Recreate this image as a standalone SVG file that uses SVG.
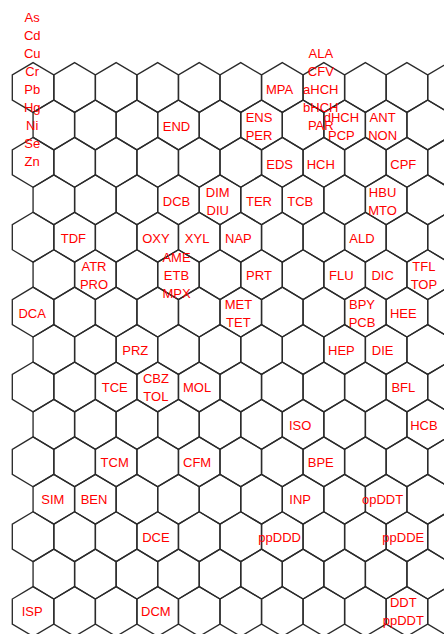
<svg xmlns="http://www.w3.org/2000/svg" xmlns:xlink="http://www.w3.org/1999/xlink" width="444" height="634" viewBox="0 0 444 634">
<style>
.grid{fill:none;stroke:#2b2b2b;stroke-width:1.35;stroke-linejoin:miter}
text{font-family:"Liberation Sans",Arial,sans-serif;font-size:13px;fill:#ff0000;text-anchor:middle}
</style>
<defs>
<path id="h" d="M0,-24.93 L20.77,-12.5 L20.77,12.5 L0,24.93 L-20.77,12.5 L-20.77,-12.5Z"/>
<g id="row">
<use xlink:href="#h" x="0"/><use xlink:href="#h" x="41.54"/><use xlink:href="#h" x="83.08"/><use xlink:href="#h" x="124.62"/><use xlink:href="#h" x="166.16"/><use xlink:href="#h" x="207.7"/><use xlink:href="#h" x="249.24"/><use xlink:href="#h" x="290.78"/><use xlink:href="#h" x="332.32"/><use xlink:href="#h" x="373.86"/><use xlink:href="#h" x="415.4"/>
</g>
</defs>
<rect width="444" height="634" fill="#fff"/>
<g id="grid" class="grid">
<use xlink:href="#row" x="33.07" y="87.5"/>
<use xlink:href="#row" x="53.84" y="124.93"/>
<use xlink:href="#row" x="33.07" y="162.36"/>
<use xlink:href="#row" x="53.84" y="199.79"/>
<use xlink:href="#row" x="33.07" y="237.22"/>
<use xlink:href="#row" x="53.84" y="274.65"/>
<use xlink:href="#row" x="33.07" y="312.08"/>
<use xlink:href="#row" x="53.84" y="349.51"/>
<use xlink:href="#row" x="33.07" y="386.94"/>
<use xlink:href="#row" x="53.84" y="424.37"/>
<use xlink:href="#row" x="33.07" y="461.8"/>
<use xlink:href="#row" x="53.84" y="499.23"/>
<use xlink:href="#row" x="33.07" y="536.66"/>
<use xlink:href="#row" x="53.84" y="574.09"/>
<use xlink:href="#row" x="33.07" y="611.52"/>
</g>
<g id="labels">
<g id="n0_0"><text x="32.2" y="21.9">As</text><text x="32.2" y="39.9">Cd</text><text x="32.2" y="57.9">Cu</text><text x="32.2" y="75.9">Cr</text><text x="32.2" y="93.9">Pb</text><text x="32.2" y="111.9">Hg</text><text x="32.2" y="129.9">Ni</text><text x="32.2" y="147.9">Se</text><text x="32.2" y="165.9">Zn</text></g>
<g id="n0_6"><text x="279.6" y="93.9">MPA</text></g>
<g id="n0_7"><text x="320.8" y="57.9">ALA</text><text x="320.8" y="75.9">CFV</text><text x="320.8" y="93.9">aHCH</text><text x="320.8" y="111.9">bHCH</text><text x="320.8" y="129.9">PAR</text></g>
<g id="n1_3"><text x="176.5" y="131.2">END</text></g>
<g id="n1_5"><text x="259" y="122.2">ENS</text><text x="259" y="140.2">PER</text></g>
<g id="n1_7"><text x="341.4" y="122.2">dHCH</text><text x="341.4" y="140.2">PCP</text></g>
<g id="n1_8"><text x="382.6" y="122.2">ANT</text><text x="382.6" y="140.2">NON</text></g>
<g id="n2_6"><text x="279.6" y="168.5">EDS</text></g>
<g id="n2_7"><text x="320.8" y="168.5">HCH</text></g>
<g id="n2_9"><text x="403.3" y="168.5">CPF</text></g>
<g id="n3_3"><text x="176.5" y="205.8">DCB</text></g>
<g id="n3_4"><text x="217.7" y="196.8">DIM</text><text x="217.7" y="214.8">DIU</text></g>
<g id="n3_5"><text x="259" y="205.8">TER</text></g>
<g id="n3_6"><text x="300.2" y="205.8">TCB</text></g>
<g id="n3_8"><text x="382.6" y="196.8">HBU</text><text x="382.6" y="214.8">MTO</text></g>
<g id="n4_1"><text x="73.4" y="243.1">TDF</text></g>
<g id="n4_3"><text x="155.9" y="243.1">OXY</text></g>
<g id="n4_4"><text x="197.1" y="243.1">XYL</text></g>
<g id="n4_5"><text x="238.4" y="243.1">NAP</text></g>
<g id="n4_8"><text x="362" y="243.1">ALD</text></g>
<g id="n5_1"><text x="94" y="271.4">ATR</text><text x="94" y="289.4">PRO</text></g>
<g id="n5_3"><text x="176.5" y="262.4">AME</text><text x="176.5" y="280.4">ETB</text><text x="176.5" y="298.4">MPX</text></g>
<g id="n5_5"><text x="259" y="280.4">PRT</text></g>
<g id="n5_7"><text x="341.4" y="280.4">FLU</text></g>
<g id="n5_8"><text x="382.6" y="280.4">DIC</text></g>
<g id="n5_9"><text x="423.9" y="271.4">TFL</text><text x="423.9" y="289.4">TOP</text></g>
<g id="n6_0"><text x="32.2" y="317.7">DCA</text></g>
<g id="n6_5"><text x="238.4" y="308.7">MET</text><text x="238.4" y="326.7">TET</text></g>
<g id="n6_8"><text x="362" y="308.7">BPY</text><text x="362" y="326.7">PCB</text></g>
<g id="n6_9"><text x="403.3" y="317.7">HEE</text></g>
<g id="n7_2"><text x="135.3" y="355">PRZ</text></g>
<g id="n7_7"><text x="341.4" y="355">HEP</text></g>
<g id="n7_8"><text x="382.6" y="355">DIE</text></g>
<g id="n8_2"><text x="114.7" y="392.3">TCE</text></g>
<g id="n8_3"><text x="155.9" y="383.3">CBZ</text><text x="155.9" y="401.3">TOL</text></g>
<g id="n8_4"><text x="197.1" y="392.3">MOL</text></g>
<g id="n8_9"><text x="403.3" y="392.3">BFL</text></g>
<g id="n9_6"><text x="300.2" y="429.6">ISO</text></g>
<g id="n9_9"><text x="423.9" y="429.6">HCB</text></g>
<g id="n10_2"><text x="114.7" y="466.9">TCM</text></g>
<g id="n10_4"><text x="197.1" y="466.9">CFM</text></g>
<g id="n10_7"><text x="320.8" y="466.9">BPE</text></g>
<g id="n11_0"><text x="52.8" y="504.2">SIM</text></g>
<g id="n11_1"><text x="94" y="504.2">BEN</text></g>
<g id="n11_6"><text x="300.2" y="504.2">INP</text></g>
<g id="n11_8"><text x="382.6" y="504.2">opDDT</text></g>
<g id="n12_3"><text x="155.9" y="541.5">DCE</text></g>
<g id="n12_6"><text x="279.6" y="541.5">ppDDD</text></g>
<g id="n12_9"><text x="403.3" y="541.5">ppDDE</text></g>
<g id="n14_0"><text x="32.2" y="616.1">ISP</text></g>
<g id="n14_3"><text x="155.9" y="616.1">DCM</text></g>
<g id="n14_9"><text x="403.3" y="607.1">DDT</text><text x="403.3" y="625.1">ppDDT</text></g>
</g>
</svg>
